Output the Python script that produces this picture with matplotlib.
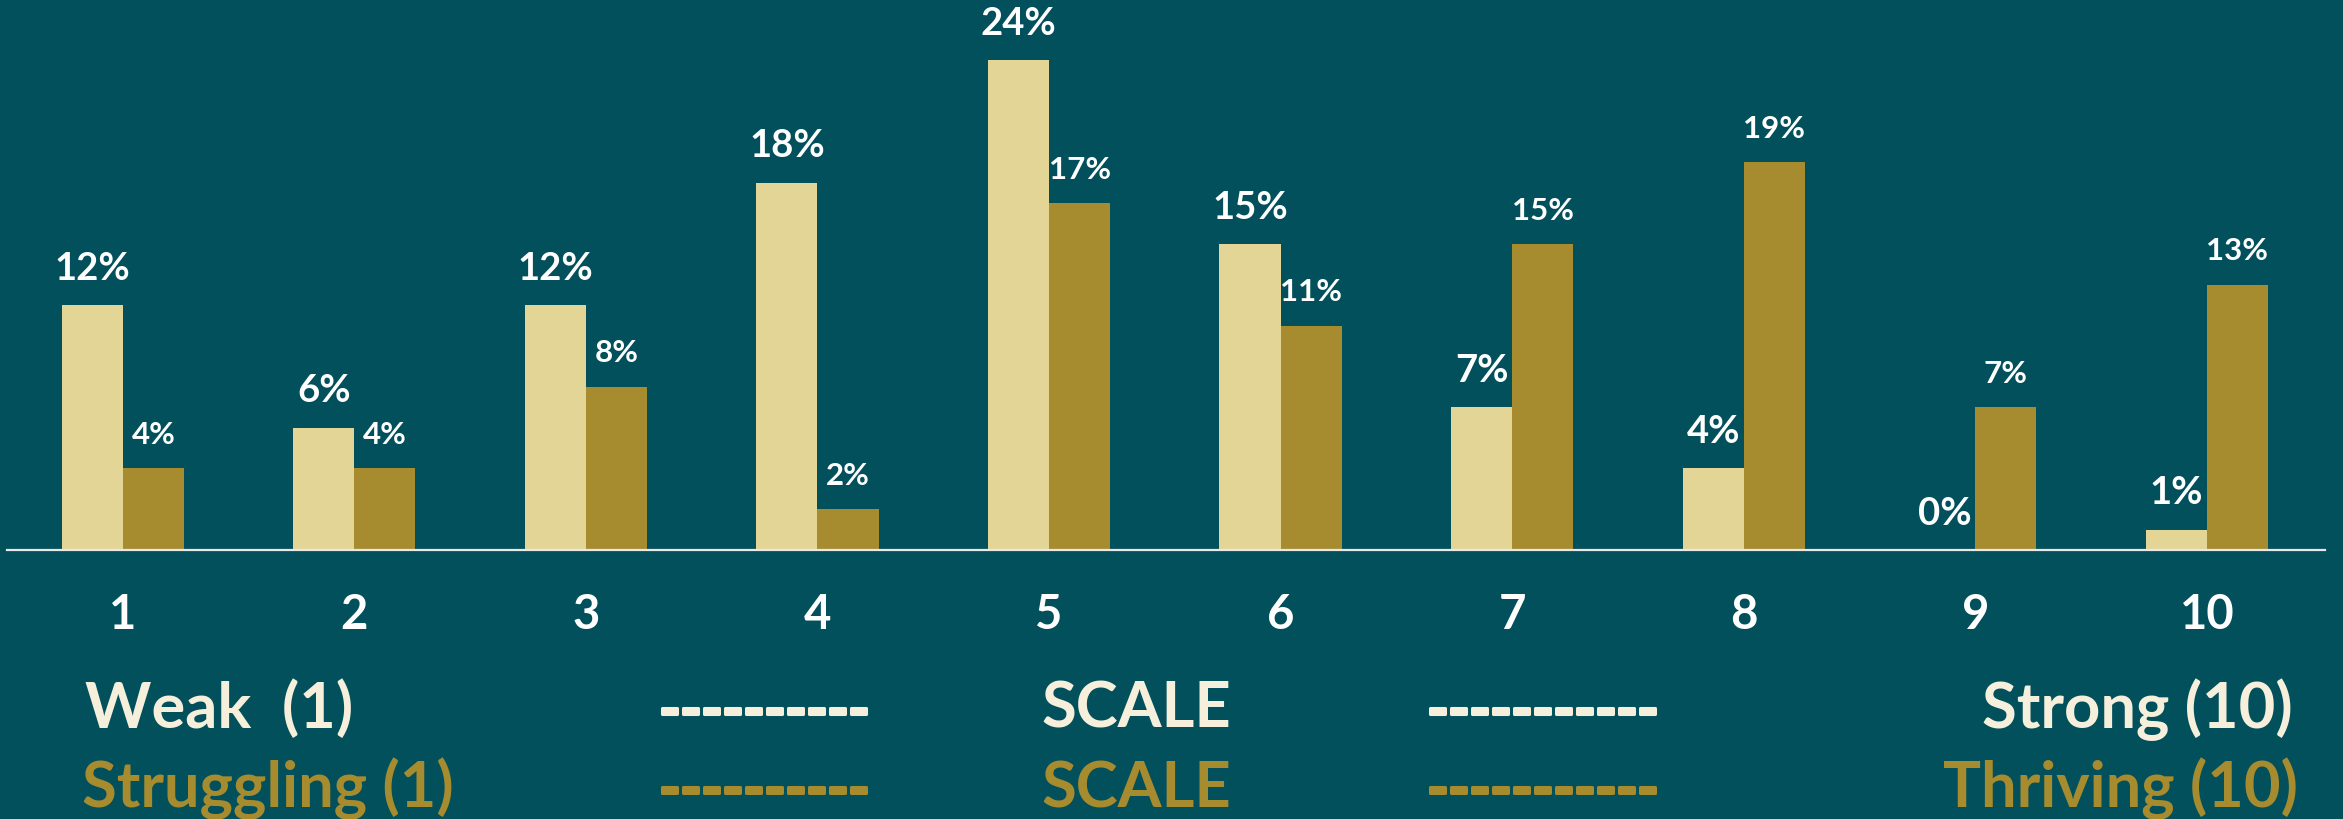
import matplotlib
matplotlib.use("Agg")
import matplotlib.pyplot as plt
import matplotlib.patheffects as pe
import numpy as np

categories = ["1", "2", "3", "4", "5", "6", "7", "8", "9", "10"]
weak_strong = [12, 6, 12, 18, 24, 15, 7, 4, 0, 1]
struggling_thriving = [4, 4, 8, 2, 17, 11, 15, 19, 7, 13]
line1_texts = ["Weak  (1)", "----------", "SCALE", "-----------", "Strong (10)"]
line2_texts = ["Struggling (1)", "----------", "SCALE", "-----------", "Thriving (10)"]

BG = "#01505B"
LIGHT = "#E2D596"
DARK = "#A68B2F"
CREAM = "#F5EFDC"
FONT = "Lato"

W, H = 2343, 819
fig = plt.figure(figsize=(W / 100, H / 100), dpi=100, facecolor=BG)

# axes in pixel geometry
ax_left, ax_right = 7, 2325
base_y = 550
ax = fig.add_axes([ax_left / W, (H - base_y) / H, (ax_right - ax_left) / W, base_y / H])
ax.set_facecolor(BG)
px_per_pct = 20.4
ax.set_ylim(0, base_y / px_per_pct)
ax.set_xlim(0.5, 10.51)

x = np.arange(1, len(categories) + 1)
bw = 0.264
ax.bar(x - bw / 2, weak_strong, bw, color=LIGHT, edgecolor="none")
ax.bar(x + bw / 2, struggling_thriving, bw, color=DARK, edgecolor="none")

for xi, v in zip(x - bw / 2, weak_strong):
    ax.annotate(f"{v}%", (xi, v), xytext=(0, 14), textcoords="offset points",
                ha="center", va="bottom", color="white", fontsize=27.5,
                fontweight="bold", family=FONT)
for xi, v in zip(x + bw / 2, struggling_thriving):
    ax.annotate(f"{v}%", (xi, v), xytext=(0, 14), textcoords="offset points",
                ha="center", va="bottom", color="white", fontsize=22.5,
                fontweight="bold", family=FONT)

for s in ["top", "right", "left"]:
    ax.spines[s].set_visible(False)
ax.spines["bottom"].set_color("#E8E8E8")
ax.spines["bottom"].set_linewidth(1.6)
ax.set_yticks([])
ax.set_xticks(x)
ax.set_xticklabels(categories)
ax.tick_params(axis="x", length=0, pad=31, labelsize=34, labelcolor="white")
for lbl in ax.get_xticklabels():
    lbl.set_fontweight("bold")
    lbl.set_family(FONT)

# bottom scale lines
fs_bottom = 45.5
fs_dash = 40.5
pos1 = [(85, "left"), (659, "left"), (1041, "left"), (1427, "left"), (2293, "right")]
pos2 = [(82, "left"), (659, "left"), (1041, "left"), (1427, "left"), (2298, "right")]
for pos, texts, base, col in [(pos1, line1_texts, 728, CREAM), (pos2, line2_texts, 807, DARK)]:
    for (px, ha), t in zip(pos, texts):
        is_dash = set(t) == {"-"}
        kw = {}
        if is_dash:
            kw["path_effects"] = [pe.withStroke(linewidth=2.2, foreground=col)]
        fig.text(px / W, 1 - base / H, t, ha=ha, va="baseline", color=col,
                 fontsize=fs_dash if is_dash else fs_bottom, fontweight="bold",
                 family=FONT, **kw)

fig.savefig("out.png", dpi=100, facecolor=BG)
